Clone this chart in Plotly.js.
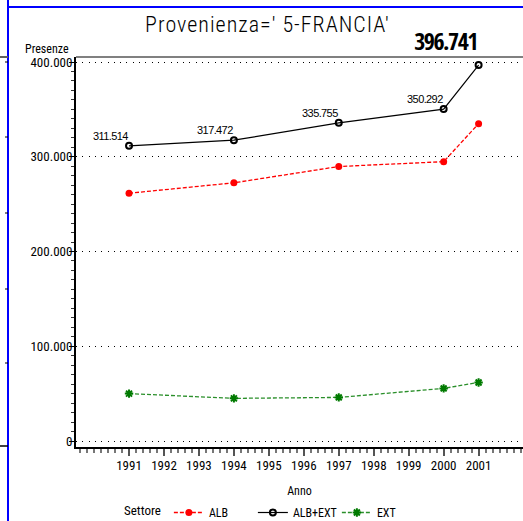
<!DOCTYPE html>
<html>
<head>
<meta charset="utf-8">
<script src="https://cdn.plot.ly/plotly-3.0.1.min.js"></script>
<style>
html,body{margin:0;padding:0;background:#fff;}
#chart{width:523px;height:521px;}
.gtitle{letter-spacing:1px;}
</style>
</head>
<body>
<div id="chart"></div>
<script>
// ---- data ----
var years = [1991, 1994, 1997, 2000, 2001];
var alb = [261500, 272500, 289700, 294800, 334900];
var albExt = [311514, 317472, 335755, 350292, 396741];
var ext = [50000, 45000, 46000, 55500, 61800];
var seriesNames = ['ALB', 'ALB+EXT', 'EXT'];
var xTickYears = [1991, 1992, 1993, 1994, 1995, 1996, 1997, 1998, 1999, 2000, 2001];
var yTickVals = [0, 100000, 200000, 300000, 400000];
var yTickText = ['0', '100.000', '200.000', '300.000', '400.000'];
var titleText = "Provenienza=' 5-FRANCIA'";

var FONT = '"Roboto Condensed", "DejaVu Sans Condensed", sans-serif';

function fmtIt(v) {
  return String(v).replace(/\B(?=(\d{3})+(?!\d))/g, '.');
}

// plot geometry (px) helpers for decorative page lines
var L = 76, T = 57, B = 447, R = 523, W = 523, H = 521;
function px(x) { return (x - L) / (R - L); }
function py(y) { return (B - y) / (B - T); }

var traces = [
  {
    x: years, y: alb, name: seriesNames[0], type: 'scatter', mode: 'lines+markers',
    line: {color: '#ff0000', width: 1.3, dash: '4px,2px'},
    marker: {symbol: 'circle', size: 7, color: '#ff0000'}
  },
  {
    x: years, y: albExt, name: seriesNames[1], type: 'scatter', mode: 'lines+markers',
    line: {color: '#000000', width: 1.2},
    marker: {symbol: 'circle-open', size: 6, color: '#000000', line: {width: 2, color: '#000000'}}
  },
  {
    x: years, y: ext, name: seriesNames[2], type: 'scatter', mode: 'lines+markers',
    line: {color: '#2a8f2a', width: 1.3, dash: '4px,2px'},
    marker: {symbol: 'asterisk-open', size: 7, color: '#007a00', line: {width: 2, color: '#007a00'}}
  }
];

var annotations = [];
for (var k = 0; k < years.length; k++) {
  var last = (k === years.length - 1);
  annotations.push({
    x: years[k], y: albExt[k], xref: 'x', yref: 'y',
    text: fmtIt(albExt[k]), showarrow: false,
    xanchor: last ? 'center' : 'right', yanchor: 'bottom',
    xshift: last ? -33 : 3, yshift: last ? 6 : 2,
    font: last ? {family: '"Open Sans Condensed", "Roboto Condensed", sans-serif', size: 24, color: '#000', weight: 'bold'}
               : {family: '"Liberation Sans", Arial, sans-serif', size: 11, color: '#000'}
  });
}
annotations.push({
  xref: 'paper', yref: 'paper', x: px(71), y: py(58), xanchor: 'right', yanchor: 'bottom',
  text: 'Presenze', showarrow: false, font: {family: FONT, size: 12, color: '#000'}
});

var shapes = [
  {type: 'line', xref: 'paper', yref: 'paper', x0: px(8), x1: px(8), y0: py(0), y1: py(521), line: {color: '#0000ff', width: 2}},
  {type: 'line', xref: 'paper', yref: 'paper', x0: px(8), x1: px(523), y0: py(7), y1: py(7), line: {color: '#0000ff', width: 2}},
  {type: 'line', xref: 'paper', yref: 'paper', x0: 0, x1: 1, y0: 1, y1: 1, line: {color: '#808080', width: 2}},
  {type: 'line', xref: 'paper', yref: 'paper', x0: px(0), x1: px(8), y0: 1, y1: 1, line: {color: '#606060', width: 2}},
  {type: 'line', xref: 'paper', yref: 'paper', x0: px(0), x1: px(8), y0: py(446), y1: py(446), line: {color: '#000000', width: 1.5}}
];
var rulerY = [62, 137, 213, 289, 363];
rulerY.forEach(function (yy) {
  shapes.push({type: 'line', xref: 'paper', yref: 'paper', x0: px(5), x1: px(8), y0: py(yy), y1: py(yy), line: {color: '#000', width: 1}});
});

var XRANGE = [1989.483, 2002.27], YRANGE = [-6333, 405277];

var layout = {
  width: W, height: H,
  margin: {l: L, r: 0, t: T, b: H - B, pad: 0, autoexpand: false},
  paper_bgcolor: '#ffffff', plot_bgcolor: '#ffffff',
  font: {family: FONT, color: '#000'},
  title: {
    text: titleText, font: {family: FONT, size: 22, color: '#000', weight: 300},
    xref: 'container', x: 267.5 / W, xanchor: 'center',
    yref: 'container', y: 1 - 17 / H, yanchor: 'top'
  },
  xaxis: {
    range: XRANGE, showgrid: false, zeroline: false, automargin: false,
    showline: true, linecolor: '#000', linewidth: 2,
    tickmode: 'array', tickvals: xTickYears, ticktext: xTickYears.map(String),
    ticks: 'outside', ticklen: 7, tickwidth: 2, tickcolor: '#555',
    ticklabelstandoff: -2,
    tickfont: {family: FONT, size: 13, color: '#000'},
    minor: {tickmode: 'linear', tick0: xTickYears[0], dtick: 0.2, ticks: 'outside', ticklen: 4, tickwidth: 2, tickcolor: '#777', showgrid: false},
    title: {text: 'Anno', font: {family: FONT, size: 12, color: '#000'}, standoff: 16}
  },
  yaxis: {
    range: YRANGE, zeroline: false, automargin: false,
    showline: true, linecolor: '#000', linewidth: 2,
    tickmode: 'array', tickvals: yTickVals, ticktext: yTickText,
    ticks: 'outside', ticklen: 5, tickwidth: 1, tickcolor: '#000',
    ticklabelstandoff: -6,
    tickfont: {family: FONT, size: 13, color: '#000'},
    showgrid: true, gridcolor: '#000', gridwidth: 1, griddash: '1px,5.3px',
    minor: {tickmode: 'linear', tick0: 0, dtick: 10000, ticks: 'outside', ticklen: 3, tickwidth: 1, tickcolor: '#333', showgrid: false}
  },
  showlegend: true,
  legend: {
    orientation: 'h', xref: 'container', yref: 'container',
    x: 122 / W, xanchor: 'left', y: 1 - 498 / H, yanchor: 'top',
    font: {family: FONT, size: 12, color: '#000'},
    title: {text: 'Settore', side: 'left', font: {family: FONT, size: 13, color: '#000'}},
    bgcolor: 'rgba(0,0,0,0)', borderwidth: 0,
    entrywidth: 39, entrywidthmode: 'pixels', itemclick: false
  },
  annotations: annotations,
  shapes: shapes
};

Plotly.newPlot('chart', traces, layout, {displayModeBar: false}).then(function () {
  var big = fmtIt(albExt[albExt.length - 1]);
  document.querySelectorAll('.annotation-text').forEach(function (el) {
    if (el.textContent === big) el.style.letterSpacing = '-1.5px';
    else if (/^\d/.test(el.textContent)) el.style.letterSpacing = '-0.6px';
  });
});
</script>
</body>
</html>
